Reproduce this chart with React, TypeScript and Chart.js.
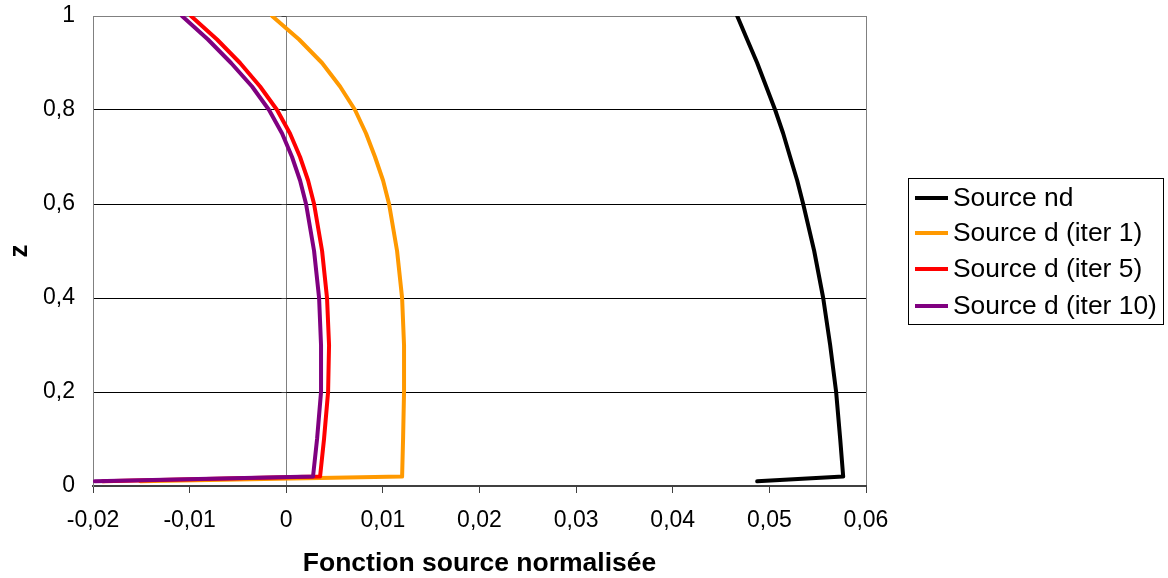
import React, { useEffect, useRef } from "react";
import { Chart, registerables } from "chart.js";

Chart.register(...registerables);

const zValues = [1, 0.95, 0.9, 0.85, 0.8, 0.75, 0.7, 0.65, 0.6, 0.5, 0.4, 0.3, 0.2, 0.1, 0.02, 0.01];
const sourceNd = [0.04667, 0.0477, 0.04874, 0.04967, 0.0506, 0.05143, 0.05215, 0.05288, 0.0535, 0.05464, 0.05557, 0.05629, 0.05691, 0.05733, 0.05764, 0.04874];
const sourceIter1 = [-0.00147, 0.00133, 0.00371, 0.00557, 0.00712, 0.00826, 0.00919, 0.01002, 0.01064, 0.01147, 0.01199, 0.01219, 0.01219, 0.01209, 0.01199, -0.0151];
const sourceIter5 = [-0.00986, -0.00716, -0.00478, -0.00271, -0.00095, 0.00039, 0.00143, 0.00226, 0.00288, 0.00371, 0.00422, 0.00443, 0.00433, 0.00391, 0.0035, -0.019];
const sourceIter10 = [-0.01079, -0.0081, -0.00571, -0.00354, -0.00178, -0.00043, 0.0006, 0.00143, 0.00205, 0.00288, 0.0034, 0.0036, 0.0036, 0.00319, 0.00277, -0.0198];

const seriesLabels = ["Source nd", "Source d (iter 1)", "Source d (iter 5)", "Source d (iter 10)"];
const seriesColors = ["#000000", "#FF9900", "#FF0000", "#800080"];
const seriesValues = [sourceNd, sourceIter1, sourceIter5, sourceIter10];

const xTitle = "Fonction source normalisée";
const yTitle = "z";

const FONT = "'Liberation Sans', Arial, Helvetica, sans-serif";

function fmt(v: number, digits: number) {
  const r = Math.round(v * 1000) / 1000;
  if (Math.abs(r) < 1e-9) return "0";
  if (Math.abs(r - Math.round(r)) < 1e-9) return String(Math.round(r));
  let s = r.toFixed(digits);
  s = s.replace(/0+$/, "");
  return s.replace(".", ",");
}

const customLegend = {
  id: "customLegend",
  afterDraw(chart: any) {
    const ctx = chart.ctx;
    ctx.save();
    ctx.strokeStyle = "#000";
    ctx.lineWidth = 1;
    ctx.strokeRect(908.5, 178.5, 255, 146);
    const rows = [198, 233, 269, 306];
    ctx.font = `26.4px ${FONT}`;
    ctx.textBaseline = "middle";
    ctx.textAlign = "left";
    seriesLabels.forEach((lab, i) => {
      ctx.strokeStyle = seriesColors[i];
      ctx.lineWidth = 4;
      ctx.beginPath();
      ctx.moveTo(915, rows[i]);
      ctx.lineTo(948, rows[i]);
      ctx.stroke();
      ctx.fillStyle = "#000";
      ctx.fillText(lab, 953, rows[i] + 1);
    });
    ctx.restore();
  },
};

const zeroAxisTicks = {
  id: "zeroAxisTicks",
  afterDatasetsDraw(chart: any) {
    const ctx = chart.ctx;
    const xs = chart.scales.x;
    const ys = chart.scales.y;
    const x0 = Math.round(xs.getPixelForValue(0)) + 0.5;
    ctx.save();
    ctx.strokeStyle = "#404040";
    ctx.lineWidth = 1;
    ys.ticks.forEach((t: any) => {
      const y = Math.round(ys.getPixelForValue(t.value)) + 0.5;
      ctx.beginPath();
      ctx.moveTo(x0 - 5, y);
      ctx.lineTo(x0, y);
      ctx.stroke();
    });
    ctx.restore();
  },
};

export default function App() {
  const ref = useRef<HTMLCanvasElement | null>(null);
  useEffect(() => {
    if (!ref.current) return;
    const datasets = seriesValues.map((vals, i) => ({
      label: seriesLabels[i],
      data: zValues.map((z, k) => ({ x: vals[k], y: z })),
      borderColor: seriesColors[i],
      backgroundColor: seriesColors[i],
      borderWidth: 4,
      pointRadius: 0,
      showLine: true,
      tension: 0,
      order: 3 - i,
      borderJoinStyle: "round" as const,
      borderCapStyle: "round" as const,
    }));
    const chart = new Chart(ref.current, {
      type: "scatter",
      data: { datasets },
      options: {
        animation: false,
        responsive: false,
        maintainAspectRatio: false,
        layout: { padding: { left: 0, right: 302, top: 16, bottom: -2 } },
        plugins: { legend: { display: false }, tooltip: { enabled: false } },
        scales: {
          x: {
            type: "linear",
            min: -0.02,
            max: 0.06,
            ticks: {
              stepSize: 0.01,
              color: "#000",
              font: { family: FONT, size: 23 },
              padding: 14,
              maxRotation: 0,
              callback: (v: any) => fmt(Number(v), 2),
            },
            grid: {
              color: (c: any) => {
                const v = c.tick ? c.tick.value : null;
                if (v === null) return "rgba(0,0,0,0)";
                if (Math.abs(v) < 1e-9 || Math.abs(v - 0.06) < 1e-9 || Math.abs(v + 0.02) < 1e-9) return "#808080";
                return "rgba(0,0,0,0)";
              },
              tickColor: "#404040",
              tickLength: 7,
              lineWidth: 1,
              tickWidth: 1,
            },
            border: { display: true, color: "#404040", width: 2 },
            title: {
              display: true,
              text: xTitle,
              color: "#000",
              font: { family: FONT, size: 26.5, weight: "bold" },
              padding: { top: 0, bottom: 0 },
            },
            afterFit: (s: any) => {
              s.height = 94;
            },
          },
          y: {
            type: "linear",
            min: 0,
            max: 1,
            ticks: {
              stepSize: 0.2,
              color: "#000",
              font: { family: FONT, size: 23 },
              padding: 0,
              callback: (v: any) => fmt(Number(v), 1),
            },
            grid: {
              color: (c: any) => {
                const v = c.tick ? c.tick.value : null;
                if (v === null) return "rgba(0,0,0,0)";
                if (Math.abs(v - 1) < 1e-9) return "#808080";
                if (Math.abs(v) < 1e-9) return "#404040";
                return "#000000";
              },
              drawTicks: true,
              tickLength: 18,
              tickColor: "rgba(0,0,0,0)",
              lineWidth: 1,
            },
            border: { display: true, color: "#808080", width: 1 },
            title: {
              display: true,
              text: yTitle,
              color: "#000",
              font: { family: FONT, size: 26, weight: "bold" },
              padding: { top: 4, bottom: 0 },
            },
            afterFit: (s: any) => {
              s.width = 93;
            },
          },
        },
      },
      plugins: [customLegend, zeroAxisTicks],
    });
    return () => chart.destroy();
  }, []);
  return (
    <div style={{ position: "fixed", left: 0, top: 0, width: 1168, height: 578, background: "#fff" }}>
      <canvas ref={ref} width={1168} height={578} style={{ width: 1168, height: 578, display: "block" }} />
    </div>
  );
}
